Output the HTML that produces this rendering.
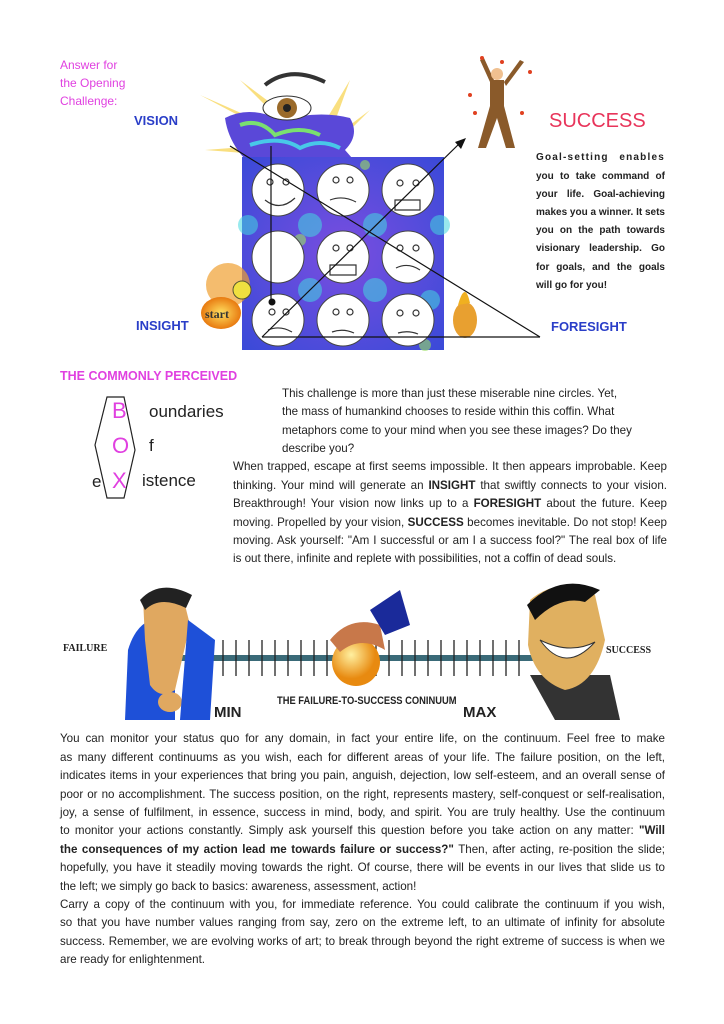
<!DOCTYPE html>
<html><head><meta charset="utf-8">
<style>
*{margin:0;padding:0;box-sizing:border-box}
body{width:724px;height:1024px;background:#fff;position:relative;overflow:hidden;font-family:"Liberation Sans",sans-serif;color:#222}
.a{position:absolute;white-space:nowrap}
.j{position:absolute;left:60px;width:605px;font-size:11.6px;text-align:justify;text-align-last:justify;white-space:nowrap;line-height:14px}
.j2{position:absolute;font-size:11.6px;text-align:justify;text-align-last:justify;white-space:nowrap;line-height:14px}
.g{position:absolute;left:536px;width:129px;font-size:10px;font-weight:bold;text-align:justify;text-align-last:justify;white-space:nowrap;color:#222}
.blue{color:#2a3ec8;font-weight:bold;font-size:13px}
</style></head><body>

<div class="a" style="left:60px;top:56px;color:#e040e0;font-size:12px;line-height:18px">Answer for<br>the Opening<br>Challenge:</div>
<div class="a blue" style="left:134px;top:113px">VISION</div>
<div class="a blue" style="left:136px;top:318px">INSIGHT</div>
<div class="a blue" style="left:551px;top:319px">FORESIGHT</div>
<div class="a" style="left:549px;top:110px;color:#e8345a;font-size:20px">SUCCESS</div>

<div class="g" style="top:152px;letter-spacing:1.2px">Goal-setting enables</div>
<div class="g" style="top:171px">you to take command of</div>
<div class="g" style="top:189px">your life. Goal-achieving</div>
<div class="g" style="top:207px">makes you a winner. It sets</div>
<div class="g" style="top:225px">you on the path towards</div>
<div class="g" style="top:243px">visionary leadership. Go</div>
<div class="g" style="top:262px">for goals, and the goals</div>
<div class="g" style="top:280px;text-align-last:left">will go for you!</div>

<svg class="a" style="left:0;top:0" width="724" height="360">
<defs>
<radialGradient id="bg" cx="50%" cy="50%" r="70%"><stop offset="0" stop-color="#7a4ee0"/><stop offset="1" stop-color="#3a4ad8"/></radialGradient>
<radialGradient id="or"><stop offset="0" stop-color="#ffe060"/><stop offset="1" stop-color="#e87a10"/></radialGradient>
</defs>
<!-- rays -->
<g fill="#f8d860" opacity="0.8">
<polygon points="285,140 200,95 280,130"/><polygon points="290,130 240,80 300,125"/><polygon points="320,130 350,80 330,135"/><polygon points="330,140 370,110 335,145"/><polygon points="270,145 205,150 270,155"/>
</g>
<!-- swirl top -->
<path d="M225,118 Q250,105 280,120 Q320,110 350,118 Q360,135 345,150 L352,158 L244,158 Q228,140 225,118Z" fill="#5a48d8"/>
<path d="M240,125 Q260,118 275,135 Q300,125 320,135" stroke="#7ae070" stroke-width="4" fill="none"/>
<path d="M250,145 Q280,135 300,148 Q320,138 340,148" stroke="#48c8e8" stroke-width="4" fill="none"/>
<!-- eye -->
<path d="M265,85 Q290,65 325,82" stroke="#333" stroke-width="4" fill="none"/>
<ellipse cx="287" cy="108" rx="24" ry="12" fill="#fff" stroke="#333"/>
<circle cx="287" cy="108" r="10" fill="#9a6a2a"/><circle cx="287" cy="108" r="4" fill="#222"/>
<!-- square -->
<rect x="242" y="157" width="202" height="193" fill="url(#bg)"/>
<g fill="#44d8e0" opacity="0.55">
<circle cx="310" cy="225" r="12"/><circle cx="375" cy="225" r="12"/><circle cx="310" cy="290" r="12"/><circle cx="375" cy="290" r="12"/><circle cx="440" cy="225" r="10"/><circle cx="248" cy="225" r="10"/><circle cx="430" cy="300" r="10"/>
</g>
<g fill="#9ae060" opacity="0.6"><circle cx="300" cy="240" r="6"/><circle cx="425" cy="345" r="6"/><circle cx="365" cy="165" r="5"/></g>
<g fill="#fff" stroke="#444" stroke-width="1">
<circle cx="278" cy="190" r="26"/><circle cx="343" cy="190" r="26"/><circle cx="408" cy="190" r="26"/>
<circle cx="278" cy="257" r="26"/><circle cx="343" cy="257" r="26"/><circle cx="408" cy="257" r="26"/>
<circle cx="278" cy="320" r="26"/><circle cx="343" cy="320" r="26"/><circle cx="408" cy="320" r="26"/>
</g>
<g stroke="#333" fill="none" stroke-width="1.2">
<path d="M265,200 Q280,212 295,198"/><path d="M330,200 Q343,195 356,202"/><path d="M395,200 L420,200 L420,210 L395,210Z"/>
<path d="M330,265 L356,265 L356,275 L330,275Z"/><path d="M396,268 Q408,262 420,270"/>
<path d="M268,330 Q280,325 292,332"/><path d="M332,332 Q343,328 354,333"/><path d="M398,333 Q408,330 418,334"/>
<circle cx="270" cy="182" r="3"/><circle cx="286" cy="182" r="3"/><circle cx="336" cy="180" r="3"/><circle cx="350" cy="180" r="3"/><circle cx="400" cy="183" r="3"/><circle cx="416" cy="183" r="3"/>
<circle cx="336" cy="248" r="3"/><circle cx="350" cy="248" r="3"/><circle cx="400" cy="248" r="3"/><circle cx="416" cy="248" r="3"/>
<circle cx="336" cy="312" r="3"/><circle cx="350" cy="312" r="3"/><circle cx="400" cy="313" r="3"/><circle cx="416" cy="313" r="3"/><circle cx="272" cy="312" r="3"/><circle cx="286" cy="312" r="3"/>
</g>
<!-- bulb/start -->
<circle cx="228" cy="285" r="22" fill="#f0a030" opacity="0.7"/>
<circle cx="242" cy="290" r="9" fill="#f0e040" stroke="#553"/>
<ellipse cx="221" cy="313" rx="20" ry="16" fill="url(#or)"/>
<text x="205" y="318" font-family="Liberation Serif,serif" font-weight="bold" font-size="12" fill="#333">start</text>
<!-- head -->
<ellipse cx="465" cy="320" rx="12" ry="18" fill="#e8a030"/>
<path d="M458,305 Q465,280 470,303Z" fill="#f0b020"/>
<!-- success man -->
<g fill="#8a5a2a">
<rect x="490" y="80" width="14" height="28"/>
<polygon points="490,106 504,106 515,148 506,148 497,118 486,148 478,148"/>
<polygon points="490,82 480,60 484,58 494,80"/><polygon points="504,82 520,60 524,62 506,86"/>
</g>
<circle cx="497" cy="74" r="6" fill="#f0c090"/>
<g fill="#e04020"><circle cx="482" cy="58" r="2"/><circle cx="502" cy="62" r="2"/><circle cx="530" cy="72" r="2"/><circle cx="470" cy="95" r="2"/><circle cx="522" cy="113" r="2"/><circle cx="475" cy="113" r="2"/></g>
<!-- lines -->
<g stroke="#111" stroke-width="1.2" fill="none">
<line x1="271" y1="146" x2="271" y2="302"/>
<line x1="230" y1="146" x2="540" y2="337"/>
<line x1="262" y1="337" x2="540" y2="337"/>
<line x1="262" y1="337" x2="462" y2="141"/>
</g>
<polygon points="466,138 455,142 461,149" fill="#111"/>
<circle cx="272" cy="302" r="3.5" fill="#111"/>
</svg>

<div class="a" style="left:60px;top:369px;color:#e040e0;font-weight:bold;font-size:12.5px">THE COMMONLY PERCEIVED</div>
<svg class="a" style="left:90px;top:395px" width="60" height="110"><polygon points="17,2 34,2 45,55 34,103 17,103 5,50" fill="none" stroke="#222" stroke-width="1.2"/></svg>
<div class="a" style="left:112px;top:398px;color:#e040e0;font-size:22px;line-height:26px">B</div>
<div class="a" style="left:112px;top:433px;color:#e040e0;font-size:22px;line-height:26px">O</div>
<div class="a" style="left:112px;top:468px;color:#e040e0;font-size:22px;line-height:26px">X</div>
<div class="a" style="left:149px;top:402px;font-size:17px">oundaries</div>
<div class="a" style="left:149px;top:436px;font-size:17px">f</div>
<div class="a" style="left:92px;top:472px;font-size:17px">e</div>
<div class="a" style="left:142px;top:471px;font-size:17px">istence</div>

<div class="j2" style="left:282px;top:387px;width:358px;text-align-last:left">This challenge is more than just these miserable nine circles. Yet,</div>
<div class="j2" style="left:282px;top:405px;width:358px;text-align-last:left">the mass of humankind chooses to reside within this coffin. What</div>
<div class="j2" style="left:282px;top:424px;width:358px;text-align-last:left">metaphors come to your mind when you see these images? Do they</div>
<div class="j2" style="left:282px;top:442px;width:358px;text-align-last:left">describe you?</div>
<div class="j2" style="left:233px;top:460px;width:434px">When trapped, escape at first seems impossible. It then appears improbable. Keep</div>
<div class="j2" style="left:233px;top:479px;width:434px">thinking. Your mind will generate an <b>INSIGHT</b> that swiftly connects to your vision.</div>
<div class="j2" style="left:233px;top:497px;width:434px">Breakthrough! Your vision now links up to a <b>FORESIGHT</b> about the future. Keep</div>
<div class="j2" style="left:233px;top:516px;width:434px">moving. Propelled by your vision, <b>SUCCESS</b> becomes inevitable. Do not stop! Keep</div>
<div class="j2" style="left:233px;top:534px;width:434px">moving. Ask yourself: "Am I successful or am I a success fool?" The real box of life</div>
<div class="j2" style="left:233px;top:552px;width:434px;text-align-last:left">is out there, infinite and replete with possibilities, not a coffin of dead souls.</div>

<svg class="a" style="left:0;top:580px" width="724" height="150">
<!-- bar -->
<rect x="180" y="75" width="360" height="6" fill="#3a6a78"/>
<g stroke="#222" stroke-width="1.3">
<line x1="197" y1="60" x2="197" y2="96"/><line x1="210" y1="60" x2="210" y2="96"/><line x1="223" y1="60" x2="223" y2="96"/><line x1="236" y1="60" x2="236" y2="96"/><line x1="249" y1="60" x2="249" y2="96"/><line x1="262" y1="60" x2="262" y2="96"/><line x1="275" y1="60" x2="275" y2="96"/><line x1="288" y1="60" x2="288" y2="96"/><line x1="301" y1="60" x2="301" y2="96"/><line x1="314" y1="60" x2="314" y2="96"/><line x1="327" y1="60" x2="327" y2="96"/>
<line x1="376" y1="60" x2="376" y2="96"/><line x1="389" y1="60" x2="389" y2="96"/><line x1="402" y1="60" x2="402" y2="96"/><line x1="415" y1="60" x2="415" y2="96"/><line x1="428" y1="60" x2="428" y2="96"/><line x1="441" y1="60" x2="441" y2="96"/><line x1="454" y1="60" x2="454" y2="96"/><line x1="467" y1="60" x2="467" y2="96"/><line x1="480" y1="60" x2="480" y2="96"/><line x1="493" y1="60" x2="493" y2="96"/><line x1="506" y1="60" x2="506" y2="96"/><line x1="519" y1="60" x2="519" y2="96"/>
</g>
<!-- ball + hand -->
<ellipse cx="356" cy="82" rx="24" ry="24" fill="url(#or2)"/>
<defs><radialGradient id="or2" cx="40%" cy="35%"><stop offset="0" stop-color="#fff0a0"/><stop offset="1" stop-color="#e88a10"/></radialGradient></defs>
<path d="M330,60 Q350,35 380,45 L385,70 Q360,55 340,72Z" fill="#c8784a"/>
<polygon points="370,30 400,10 410,45 385,55" fill="#1a2a9a"/>
<!-- failure man -->
<path d="M128,70 Q140,30 175,40 L175,140 L125,140Z" fill="#1e50d8"/>
<path d="M143,18 Q170,5 185,25 L190,45 L175,110 Q160,120 150,105 L145,60Z" fill="#e0a860"/>
<path d="M140,20 Q160,-2 192,15 L186,28 Q160,15 145,30Z" fill="#222"/>
<ellipse cx="170" cy="122" rx="12" ry="10" fill="#e0a860"/>
<path d="M188,40 L215,60 L210,140 L180,140Z" fill="#1e50d8"/>
<!-- success man -->
<path d="M530,95 L555,140 L620,140 L610,95Z" fill="#333"/>
<path d="M530,20 Q560,-5 595,15 L605,60 Q595,105 565,110 Q535,100 528,65Z" fill="#e0b060"/>
<path d="M527,25 Q560,-8 600,10 L585,22 Q560,15 535,40Z" fill="#111"/>
<path d="M540,60 Q565,95 595,62 Q570,75 540,60Z" fill="#fff" stroke="#333"/>
</svg>
<div class="a" style="left:63px;top:643px;font-family:'Liberation Serif',serif;font-weight:bold;font-size:10px">FAILURE</div>
<div class="a" style="left:606px;top:645px;font-family:'Liberation Serif',serif;font-weight:bold;font-size:10px">SUCCESS</div>
<div class="a" style="left:277px;top:695px;font-weight:bold;font-size:11px;transform:scaleX(0.85);transform-origin:left">THE FAILURE-TO-SUCCESS CONINUUM</div>
<div class="a" style="left:214px;top:704px;font-weight:bold;font-size:15px">MIN</div>
<div class="a" style="left:463px;top:704px;font-weight:bold;font-size:15px">MAX</div>

<div class="j" style="top:732px">You can monitor your status quo for any domain, in fact your entire life, on the continuum. Feel free to make</div>
<div class="j" style="top:751px">as many different continuums as you wish, each for different areas of your life. The failure position, on the left,</div>
<div class="j" style="top:769px">indicates items in your experiences that bring you pain, anguish, dejection, low self-esteem, and an overall sense of</div>
<div class="j" style="top:788px">poor or no accomplishment. The success position, on the right, represents mastery, self-conquest or self-realisation,</div>
<div class="j" style="top:806px">joy, a sense of fulfilment, in essence, success in mind, body, and spirit. You are truly healthy. Use the continuum</div>
<div class="j" style="top:824px">to monitor your actions constantly. Simply ask yourself this question before you take action on any matter: <b>"Will</b></div>
<div class="j" style="top:843px"><b>the consequences of my action lead me towards failure or success?"</b> Then, after acting, re-position the slide;</div>
<div class="j" style="top:861px">hopefully, you have it steadily moving towards the right. Of course, there will be events in our lives that slide us to</div>
<div class="j" style="top:880px;text-align-last:left">the left; we simply go back to basics: awareness, assessment, action!</div>
<div class="j" style="top:898px">Carry a copy of the continuum with you, for immediate reference. You could calibrate the continuum if you wish,</div>
<div class="j" style="top:916px">so that you have number values ranging from say, zero on the extreme left, to an ultimate of infinity for absolute</div>
<div class="j" style="top:935px">success. Remember, we are evolving works of art; to break through beyond the right extreme of success is when we</div>
<div class="j" style="top:953px;text-align-last:left">are ready for enlightenment.</div>
</body></html>
